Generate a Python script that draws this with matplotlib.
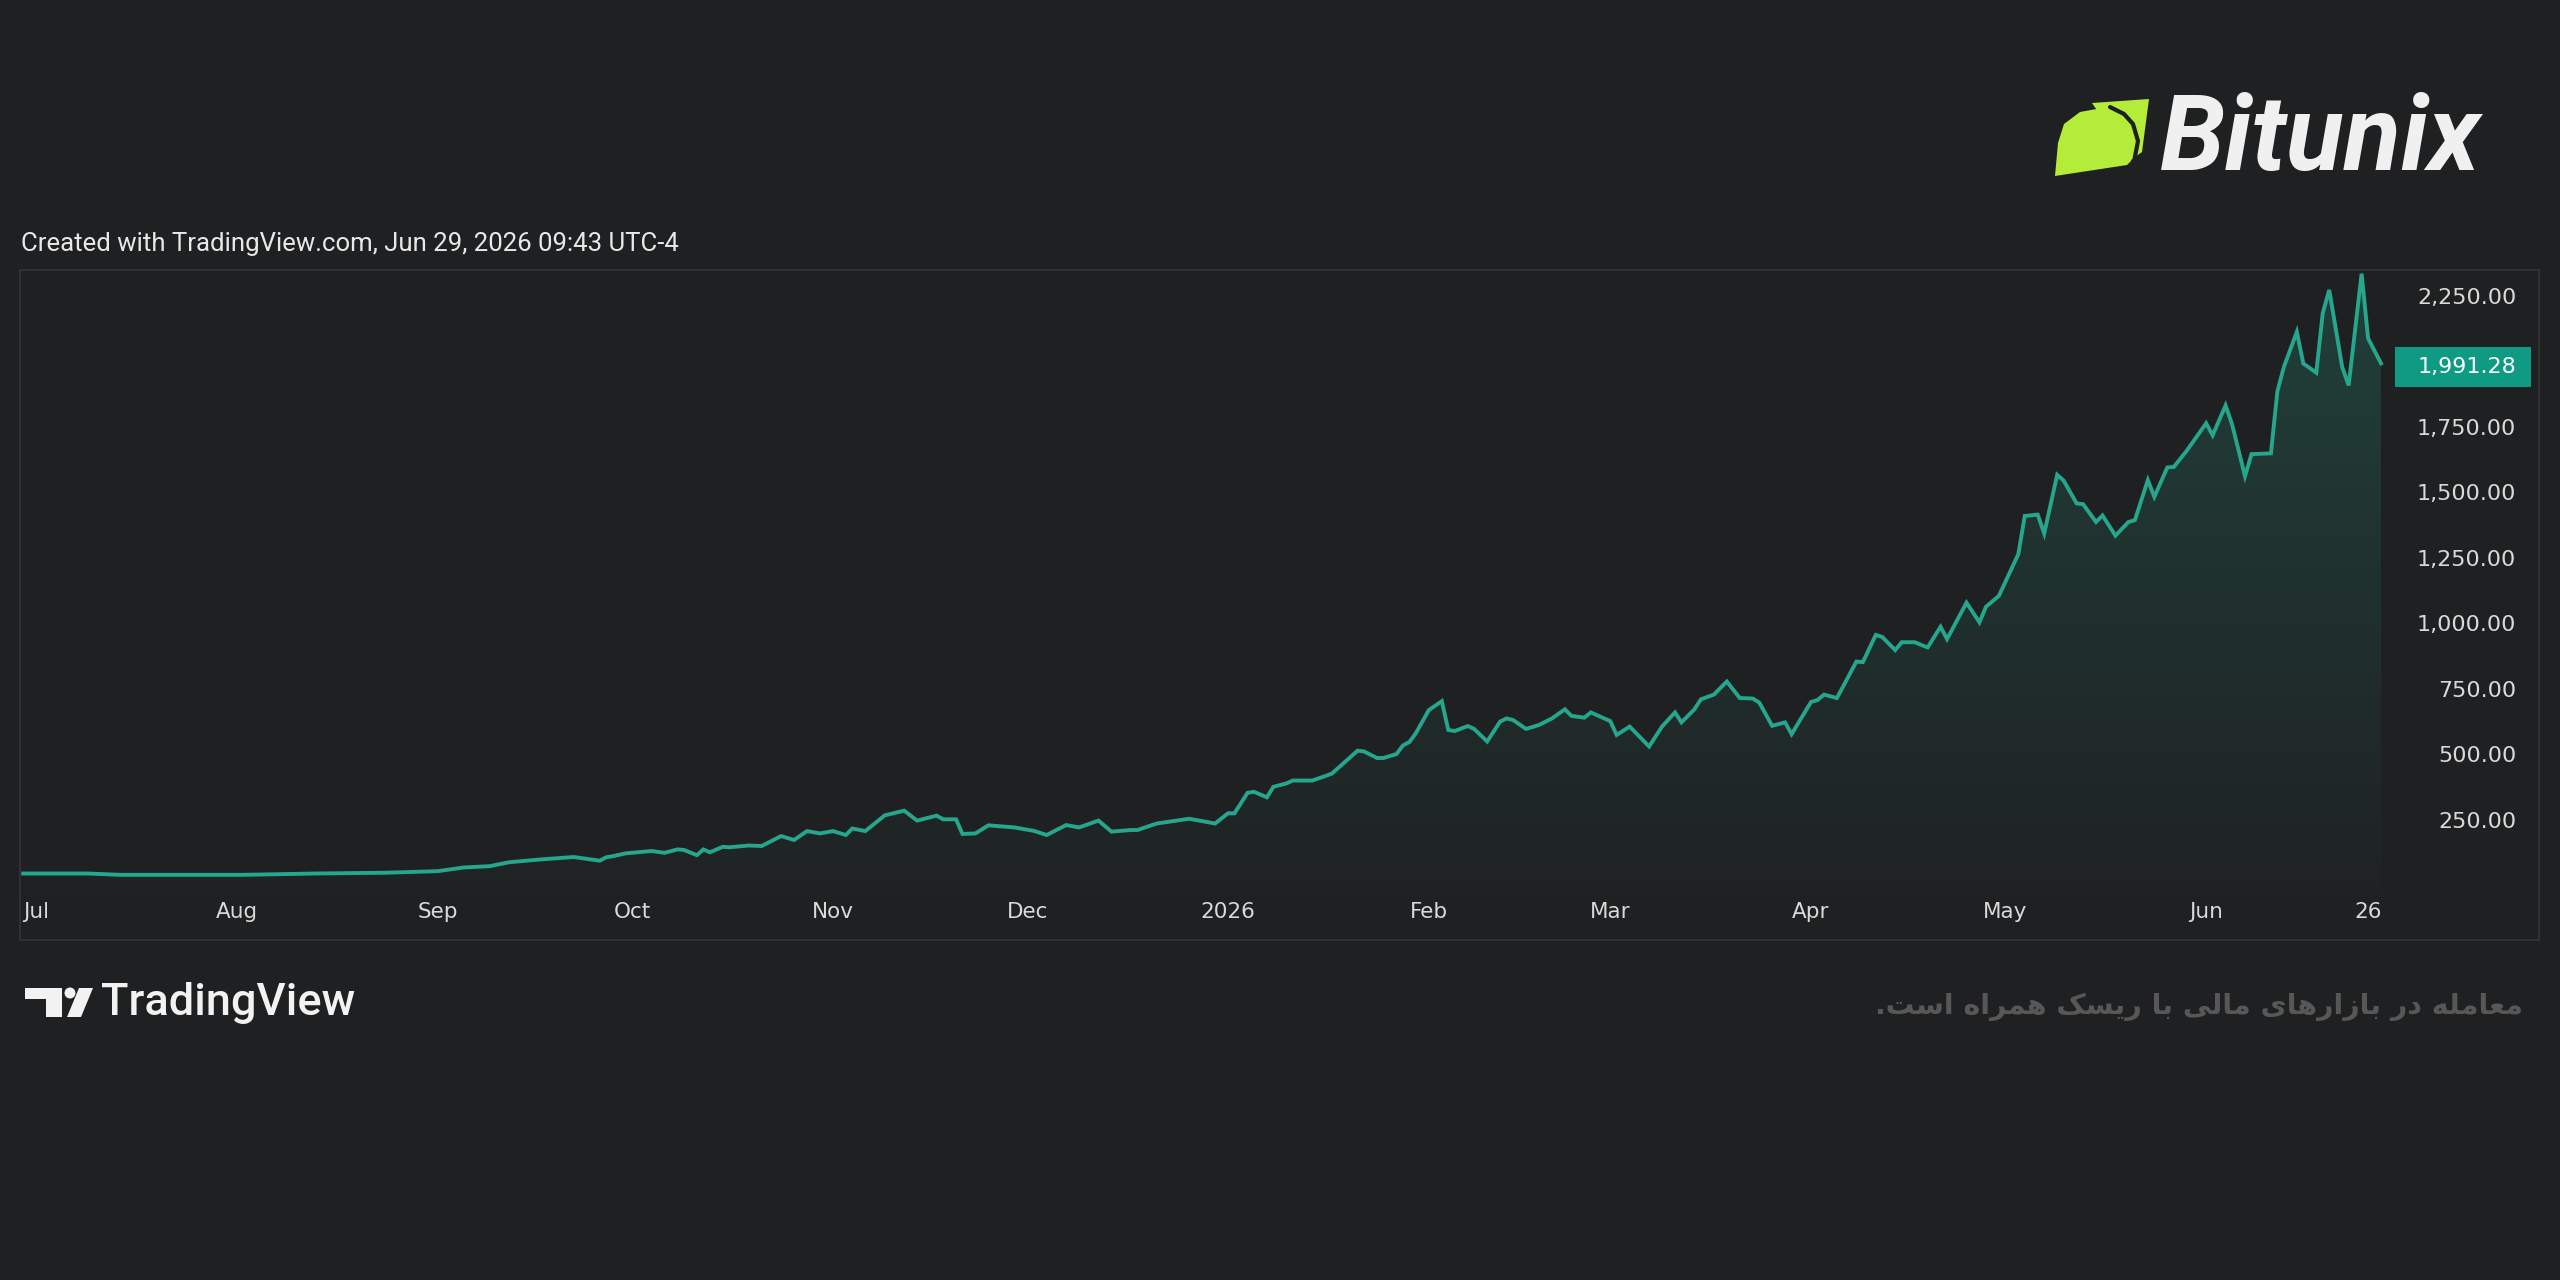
import numpy as np
import pandas as pd
import matplotlib
matplotlib.use("Agg")
import matplotlib.pyplot as plt
import matplotlib.dates as mdates
from matplotlib.colors import to_rgb
from matplotlib.patches import Rectangle, Polygon, Circle
from matplotlib.transforms import blended_transform_factory

plt.rcParams['font.family'] = ['Roboto', 'DejaVu Sans']

# ---- data ----
dates = [
    "2025-06-29", "2025-07-09", "2025-07-14", "2025-08-02", "2025-08-13", "2025-08-24",
    "2025-09-01", "2025-09-05", "2025-09-09", "2025-09-12", "2025-09-17", "2025-09-22",
    "2025-09-26", "2025-09-27", "2025-09-28", "2025-09-30",
    "2025-10-04", "2025-10-06", "2025-10-08", "2025-10-09", "2025-10-11", "2025-10-12",
    "2025-10-13", "2025-10-15", "2025-10-16", "2025-10-19", "2025-10-21", "2025-10-24",
    "2025-10-26", "2025-10-28", "2025-10-30",
    "2025-11-01", "2025-11-03", "2025-11-04", "2025-11-06", "2025-11-09", "2025-11-12",
    "2025-11-14", "2025-11-17", "2025-11-18", "2025-11-20", "2025-11-21", "2025-11-23",
    "2025-11-25", "2025-11-29",
    "2025-12-02", "2025-12-04", "2025-12-07", "2025-12-09", "2025-12-12", "2025-12-14",
    "2025-12-17", "2025-12-18", "2025-12-21", "2025-12-26", "2025-12-30",
    "2026-01-01", "2026-01-02", "2026-01-04", "2026-01-05", "2026-01-07", "2026-01-08",
    "2026-01-10", "2026-01-11", "2026-01-14", "2026-01-16", "2026-01-17", "2026-01-21",
    "2026-01-22", "2026-01-24", "2026-01-25", "2026-01-27", "2026-01-28", "2026-01-29",
    "2026-01-30",
    "2026-02-01", "2026-02-03", "2026-02-04", "2026-02-05", "2026-02-07", "2026-02-08",
    "2026-02-10", "2026-02-12", "2026-02-13", "2026-02-14", "2026-02-16", "2026-02-18",
    "2026-02-20", "2026-02-22", "2026-02-23", "2026-02-25", "2026-02-26",
    "2026-03-01", "2026-03-02", "2026-03-04", "2026-03-07", "2026-03-09", "2026-03-11",
    "2026-03-12", "2026-03-14", "2026-03-15", "2026-03-17", "2026-03-19", "2026-03-21",
    "2026-03-23", "2026-03-24", "2026-03-26", "2026-03-28", "2026-03-29",
    "2026-04-01", "2026-04-02", "2026-04-03", "2026-04-05", "2026-04-08", "2026-04-09",
    "2026-04-11", "2026-04-12", "2026-04-14", "2026-04-15", "2026-04-17", "2026-04-19",
    "2026-04-21", "2026-04-22", "2026-04-25", "2026-04-27", "2026-04-28", "2026-04-30",
    "2026-05-03", "2026-05-04", "2026-05-06", "2026-05-07", "2026-05-09", "2026-05-10",
    "2026-05-12", "2026-05-13", "2026-05-15", "2026-05-16", "2026-05-18", "2026-05-20",
    "2026-05-21", "2026-05-23", "2026-05-24", "2026-05-26", "2026-05-27", "2026-05-29",
    "2026-06-01", "2026-06-02", "2026-06-04", "2026-06-05", "2026-06-07", "2026-06-08",
    "2026-06-11", "2026-06-12", "2026-06-13", "2026-06-15", "2026-06-16", "2026-06-18",
    "2026-06-19", "2026-06-20", "2026-06-22", "2026-06-23", "2026-06-25", "2026-06-26",
    "2026-06-28",
]
prices = [
    44, 44, 39, 39, 44, 47,
    53, 67, 72, 87, 98, 107, 93, 106, 110, 121,
    130, 123, 136, 134, 114, 136, 125, 146, 144, 151, 149, 187, 172, 206, 197,
    206, 191, 216, 206, 266, 284, 246, 265, 251, 251, 195, 197, 228, 220,
    207, 191, 229, 220, 246, 204, 210, 210, 235, 253, 235,
    274, 274, 352, 356, 335, 375, 388, 399, 399, 416, 425, 513, 510, 485, 485,
    500, 533, 546, 580,
    668, 702, 592, 588, 607, 596, 548, 624, 636, 630, 596, 611, 636, 671, 646,
    639, 659,
    626, 573, 605, 529, 605, 659, 621, 671, 709, 727, 777, 714, 712, 697, 608,
    621, 576,
    699, 706, 727, 714, 853, 851, 955, 947, 897, 927, 927, 907, 986, 939, 1078,
    1003, 1062, 1104,
    1263, 1409, 1414, 1342, 1566, 1544, 1457, 1454, 1386, 1411, 1334, 1386, 1393,
    1546, 1482, 1594, 1596, 1658,
    1763, 1717, 1831, 1759, 1561, 1645, 1648, 1885, 1978, 2112, 1991, 1956, 2183,
    2272, 1978, 1907, 2334, 2087, 1991.28,
]
tick_dates = ["2025-07-01", "2025-08-01", "2025-09-01", "2025-10-01", "2025-11-01",
              "2025-12-01", "2026-01-01", "2026-02-01", "2026-03-01", "2026-04-01",
              "2026-05-01", "2026-06-01", "2026-06-26"]
tick_labels = ["Jul", "Aug", "Sep", "Oct", "Nov", "Dec", "2026", "Feb", "Mar", "Apr",
               "May", "Jun", "26"]
price_ticks = [250, 500, 750, 1000, 1250, 1500, 1750, 2250]
last_price = prices[-1]

header = "Created with TradingView.com, Jun 29, 2026 09:43 UTC-4"
disclaimer = "معامله در بازارهای مالی با ریسک همراه است."

BG = '#1f2021'
LINE = '#26a68c'
TXT = '#d9d9d9'
AXFONT = ['DejaVu Sans']

# Persian letters -> presentation forms (isolated, final, initial, medial)
FORMS = {
    'ا': ('\uFE8D', '\uFE8E', None, None),
    'ب': ('\uFE8F', '\uFE90', '\uFE91', '\uFE92'),
    'ت': ('\uFE95', '\uFE96', '\uFE97', '\uFE98'),
    'د': ('\uFEA9', '\uFEAA', None, None),
    'ر': ('\uFEAD', '\uFEAE', None, None),
    'ز': ('\uFEAF', '\uFEB0', None, None),
    'س': ('\uFEB1', '\uFEB2', '\uFEB3', '\uFEB4'),
    'ع': ('\uFEC9', '\uFECA', '\uFECB', '\uFECC'),
    'ل': ('\uFEDD', '\uFEDE', '\uFEDF', '\uFEE0'),
    'م': ('\uFEE1', '\uFEE2', '\uFEE3', '\uFEE4'),
    'ه': ('\uFEE9', '\uFEEA', '\uFEEB', '\uFEEC'),
    'ی': ('\uFBFC', '\uFBFD', '\uFBFE', '\uFBFF'),
    'ک': ('\uFB8E', '\uFB8F', '\uFB90', '\uFB91'),
}


def joins_next(c):
    return c in FORMS and FORMS[c][2] is not None


def shape_fa(text):
    """matplotlib has no RTL shaping: pick glyph forms and reverse."""
    out = []
    for i, c in enumerate(text):
        if c not in FORMS:
            out.append(c)
            continue
        prev_j = i > 0 and joins_next(text[i - 1])
        next_j = joins_next(c) and i + 1 < len(text) and text[i + 1] in FORMS
        iso, fin, ini, med = FORMS[c]
        if prev_j and next_j:
            out.append(med)
        elif prev_j:
            out.append(fin)
        elif next_j:
            out.append(ini)
        else:
            out.append(iso)
    return ''.join(reversed(out))


x = pd.to_datetime(dates)
y = np.array(prices, dtype=float)

W, H = 2560, 1280
fig = plt.figure(figsize=(W / 100, H / 100), dpi=100, facecolor=BG)

# overlay in pixel coordinates for logos and captions
ov = fig.add_axes([0, 0, 1, 1])
ov.set_xlim(0, W)
ov.set_ylim(H, 0)
ov.axis('off')

ax = fig.add_axes([20 / W, 1 - 895 / H, (2394 - 20) / W, (895 - 270) / H])
ax.set_facecolor(BG)

ymin, ymax = -38, 2348
ax.plot(x, y, color=LINE, lw=2.8, solid_joinstyle='miter', zorder=3)

# gradient area under the line
poly = ax.fill_between(x, y, ymin, color='none', lw=0)
rgba = np.zeros((256, 1, 4))
rgba[..., :3] = to_rgb(LINE)
rgba[..., 3] = np.linspace(0.02, 0.24, 256)[:, None]
x0, x1 = mdates.date2num(x[0]), mdates.date2num(x[-1])
im = ax.imshow(rgba, extent=[x0, x1, ymin, y.max()], origin='lower',
               aspect='auto', zorder=2, interpolation='bilinear')
im.set_clip_path(poly.get_paths()[0], transform=ax.transData)

ax.set_xlim(pd.Timestamp("2025-06-28 12:00"), pd.Timestamp("2026-06-30"))
ax.set_ylim(ymin, ymax)

ax.set_xticks(pd.to_datetime(tick_dates))
ax.set_xticklabels(tick_labels, family=AXFONT)
ax.yaxis.tick_right()
ax.set_yticks(price_ticks)
ax.set_yticklabels([f"{v:,.2f}" for v in price_ticks], family=AXFONT)
ax.tick_params(axis='x', length=0, pad=5, labelsize=15.5, labelcolor=TXT)
ax.tick_params(axis='y', length=0, pad=88, labelsize=16, labelcolor=TXT)
plt.setp(ax.get_yticklabels(), ha='right')
for s in ax.spines.values():
    s.set_visible(False)

# last price tag
tr = blended_transform_factory(ax.transAxes, ax.transData)
ax_w = 2394 - 20
px = (ymax - ymin) / (895 - 270)      # data units per pixel
ax.add_patch(Rectangle(((2395 - 20) / ax_w, last_price - 20 * px - 4 * px),
                       136 / ax_w, 40 * px, transform=tr, fc='#0f9a83',
                       ec='none', clip_on=False, zorder=4))
ax.text((2516 - 20) / ax_w, last_price - 4 * px, f"{last_price:,.2f}", transform=tr,
        ha='right', va='center', fontsize=16, color='white', clip_on=False,
        family=AXFONT, zorder=5)

# chart frame
fig.add_artist(Rectangle((20 / W, 1 - 940 / H), 2519 / W, 670 / H,
                         transform=fig.transFigure, fill=False,
                         ec='#323335', lw=1.3))

fig.text(21 / W, 1 - 244 / H, header, ha='left', va='center',
         fontsize=18.5, color='#e8e8e8')

# Bitunix logo
LIME = '#b4ec3a'
ov.add_patch(Polygon([(2092, 103), (2149, 99), (2142, 152), (2131, 160)],
                     closed=True, fc=LIME, ec='none'))
ov.add_patch(Polygon([(2055, 176), (2058, 143), (2064, 124), (2080, 112),
                      (2102, 108), (2116, 112), (2130, 123), (2135, 140),
                      (2131, 161), (2127, 165)],
                     closed=True, fc=LIME, ec='none'))
# thin dark gap between the two leaves
ov.plot([2110, 2124, 2133, 2138, 2134, 2130], [107, 114, 124, 141, 162, 166],
        color=BG, lw=3, solid_capstyle='round')
ov.text(2160, 141, "Bitunix", ha='left', va='center', fontsize=76,
        fontweight='bold', fontstyle='italic', color='#f0f0f0')

# TradingView logo
ov.add_patch(Polygon([(25, 988), (62, 988), (62, 1017), (46, 1017), (46, 999),
                      (25, 999)], closed=True, fc='#f2f2f2', ec='none'))
ov.add_patch(Circle((70, 993), 5.5, fc='#f2f2f2', ec='none'))
ov.add_patch(Polygon([(79, 988), (93, 988), (81, 1017), (67, 1017)],
                     closed=True, fc='#f2f2f2', ec='none'))
ov.text(101, 1003, "TradingView", ha='left', va='center', fontsize=32.5,
        fontweight='medium', color='#f2f2f2')

ov.text(2523, 1007, shape_fa(disclaimer), ha='right', va='center', fontsize=20.5,
        fontweight='bold', color='#575757', family=['DejaVu Sans'])

fig.savefig("out.png", dpi=100, facecolor=BG)
